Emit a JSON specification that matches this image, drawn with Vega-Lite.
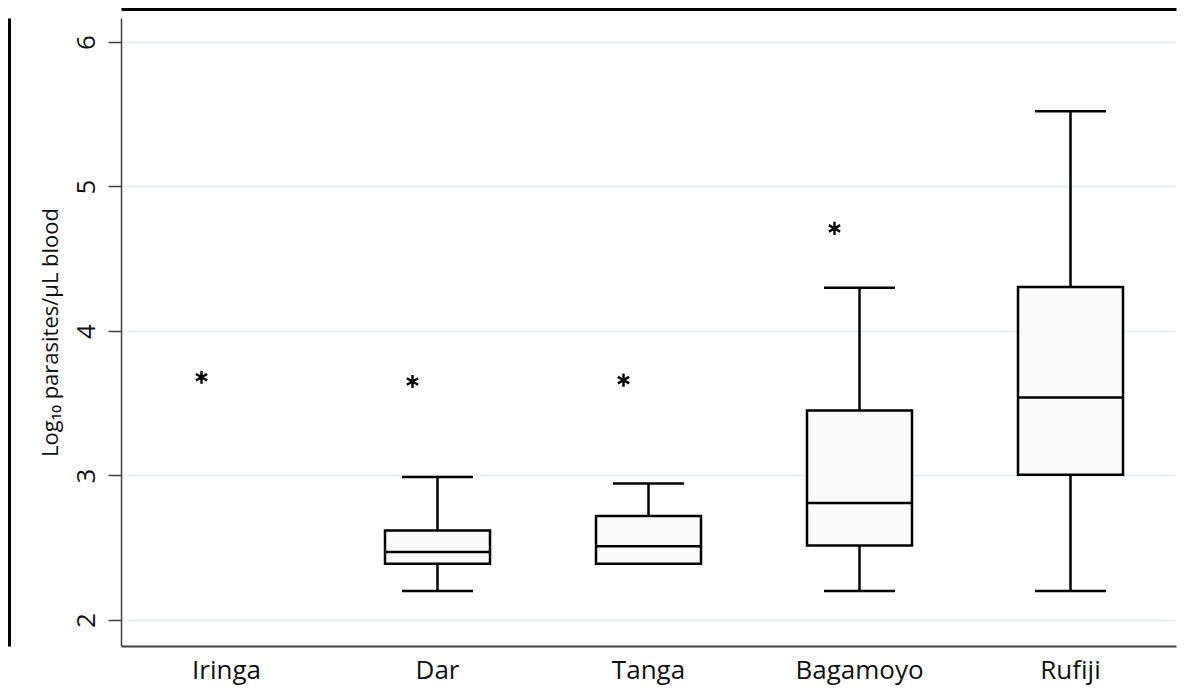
{
  "$schema": "https://vega.github.io/schema/vega-lite/v6.json",
  "width": 1055,
  "height": 628,
  "autosize": {"type": "none"},
  "padding": {"left": 121, "top": 18, "right": 14, "bottom": 50},
  "background": "white",
  "config": {
    "view": {"stroke": null},
    "font": "Open Sans",
    "axisX": {"domainColor": "#404040", "domainWidth": 2, "ticks": false, "tickSize": 0, "labelFontSize": 26, "labelColor": "#111111", "labelPadding": 11, "labelAngle": 0, "grid": false},
    "axisY": {"domainColor": "#404040", "domainWidth": 1.5, "tickColor": "#404040", "tickSize": 13, "tickWidth": 1.5, "labelAngle": -90, "labelFontSize": 26, "labelColor": "#111111", "labelPadding": 9, "grid": true, "gridColor": "#e8eef2", "gridWidth": 2, "titleFontSize": 22, "titleFontWeight": "normal", "titleColor": "#111111", "titlePadding": 11}
  },
  "resolve": {"axis": {"x": "independent", "y": "independent"}},
  "datasets": {
    "boxes": [
      {"site": "Dar", "lower": 2.20, "q1": 2.39, "median": 2.47, "q3": 2.62, "upper": 2.99},
      {"site": "Tanga", "lower": null, "q1": 2.39, "median": 2.51, "q3": 2.72, "upper": 2.945},
      {"site": "Bagamoyo", "lower": 2.20, "q1": 2.515, "median": 2.81, "q3": 3.45, "upper": 4.30},
      {"site": "Rufiji", "lower": 2.20, "q1": 3.005, "median": 3.54, "q3": 4.305, "upper": 5.52}
    ],
    "outliers": [
      {"site": "Iringa", "value": 3.68},
      {"site": "Dar", "value": 3.65},
      {"site": "Tanga", "value": 3.66},
      {"site": "Bagamoyo", "value": 4.71}
    ]
  },
  "layer": [
    {
      "data": {"name": "boxes"},
      "mark": {"type": "rule", "stroke": "black", "strokeWidth": 2.5},
      "encoding": {
        "x": {"field": "site", "type": "nominal", "title": null,
          "scale": {"domain": ["Iringa", "Dar", "Tanga", "Bagamoyo", "Rufiji"], "paddingInner": 0.5, "paddingOuter": 0.25},
          "axis": {"orient": "bottom"}},
        "y": {"field": "lower", "type": "quantitative", "title": "Log₁₀ parasites/µL blood", "scale": {"domain": [1.82, 6.166], "nice": false, "zero": false},
          "axis": {"values": [2, 3, 4, 5, 6], "format": "d"}},
        "y2": {"field": "q1"}
      }
    },
    {
      "data": {"name": "boxes"},
      "mark": {"type": "rule", "stroke": "black", "strokeWidth": 2.5},
      "encoding": {
        "x": {"field": "site", "type": "nominal", "axis": null},
        "y": {"field": "q3", "type": "quantitative", "axis": null, "scale": {"domain": [1.82, 6.166], "nice": false, "zero": false}},
        "y2": {"field": "upper"}
      }
    },
    {
      "data": {"name": "boxes"},
      "mark": {"type": "tick", "color": "black", "orient": "horizontal", "size": 71, "thickness": 2.5, "opacity": 1},
      "encoding": {
        "x": {"field": "site", "type": "nominal", "axis": null},
        "y": {"field": "lower", "type": "quantitative", "axis": null, "scale": {"domain": [1.82, 6.166], "nice": false, "zero": false}}
      }
    },
    {
      "data": {"name": "boxes"},
      "mark": {"type": "tick", "color": "black", "orient": "horizontal", "size": 71, "thickness": 2.5, "opacity": 1},
      "encoding": {
        "x": {"field": "site", "type": "nominal", "axis": null},
        "y": {"field": "upper", "type": "quantitative", "axis": null, "scale": {"domain": [1.82, 6.166], "nice": false, "zero": false}}
      }
    },
    {
      "data": {"name": "boxes"},
      "mark": {"type": "bar", "fill": "#fafafa", "stroke": "black", "strokeWidth": 2.5, "size": 105},
      "encoding": {
        "x": {"field": "site", "type": "nominal", "axis": null},
        "y": {"field": "q1", "type": "quantitative", "axis": null, "scale": {"domain": [1.82, 6.166], "nice": false, "zero": false}},
        "y2": {"field": "q3"}
      }
    },
    {
      "data": {"name": "boxes"},
      "mark": {"type": "tick", "color": "black", "orient": "horizontal", "size": 105, "thickness": 2.5, "opacity": 1},
      "encoding": {
        "x": {"field": "site", "type": "nominal", "axis": null},
        "y": {"field": "median", "type": "quantitative", "title": null, "scale": {"domain": [1.82, 6.166], "nice": false, "zero": false},
          "axis": {"orient": "right", "offset": -1167, "domainColor": "black", "domainWidth": 3, "ticks": false, "labels": false, "grid": false, "title": null}}
      }
    },
    {
      "data": {"name": "outliers"},
      "mark": {"type": "point", "shape": "M0,-1L0,1M-0.866,-0.5L0.866,0.5M-0.866,0.5L0.866,-0.5", "filled": false, "stroke": "black", "strokeWidth": 2.4, "size": 170, "opacity": 1, "xOffset": -25},
      "encoding": {
        "x": {"field": "site", "type": "nominal", "title": null,
          "axis": {"orient": "top", "offset": 9, "domainColor": "black", "domainWidth": 3, "ticks": false, "labels": false, "title": null}},
        "y": {"field": "value", "type": "quantitative", "axis": null, "scale": {"domain": [1.82, 6.166], "nice": false, "zero": false}}
      }
    }
  ]
}
